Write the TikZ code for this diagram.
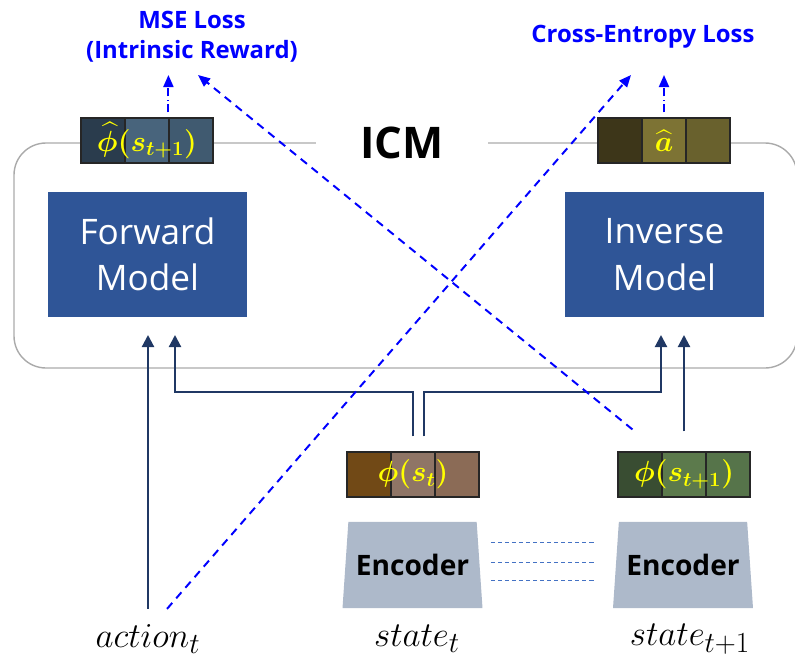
\documentclass[tikz,border=0pt]{standalone}
\usepackage{amsmath, amssymb}
\usepackage{fontspec}
\usepackage{tikz}
\usetikzlibrary{arrows.meta, positioning, calc, shapes.geometric}
\setmainfont{Open Sans}
\definecolor{mynavy}{RGB}{32, 56, 100}
\definecolor{modelblue}{RGB}{47, 85, 151}
\definecolor{encgray}{RGB}{173, 185, 202}
\definecolor{boxgray}{RGB}{170, 170, 170}
\definecolor{myblue}{RGB}{0, 0, 255}
\definecolor{sharedblue}{RGB}{68, 114, 196}
\definecolor{vecyellow}{RGB}{255, 255, 0}
\definecolor{phA}{RGB}{42, 60, 77}
\definecolor{phB}{RGB}{72, 100, 124}
\definecolor{phC}{RGB}{64, 90, 112}
\definecolor{ahA}{RGB}{61, 54, 25}
\definecolor{ahB}{RGB}{125, 115, 52}
\definecolor{ahC}{RGB}{105, 97, 45}
\definecolor{stA}{RGB}{113, 73, 22}
\definecolor{stB}{RGB}{143, 117, 102}
\definecolor{stC}{RGB}{139, 107, 86}
\definecolor{snA}{RGB}{57, 77, 50}
\definecolor{snB}{RGB}{92, 122, 76}
\definecolor{snC}{RGB}{86, 116, 74}

\begin{document}
\begin{tikzpicture}[x=0.025cm, y=-0.025cm,
    model/.style={rectangle, fill=modelblue, text=white, minimum width=4.975cm, minimum height=3.125cm, align=center, font=\fontsize{25}{33}\selectfont},
    cell/.style={rectangle, draw=black!85, line width=0.8pt, minimum width=1.1cm, minimum height=1.125cm, inner sep=0pt},
    vec/.style={text=vecyellow, inner sep=0pt, font=\fontsize{20}{22}\selectfont\boldmath},
    encoder/.style={trapezium, trapezium angle=76.6, trapezium stretches=true, fill=encgray, minimum width=3.525cm, minimum height=2.15cm, inner sep=0pt, font=\fontsize{20}{22}\selectfont\bfseries},
    feed/.style={-{Triangle[width=0.3cm, length=0.3cm]}, mynavy, line width=1.5pt},
    lossarr/.style={-{Triangle[width=0.25cm, length=0.3cm]}, myblue, line width=1.4pt, dash pattern=on 0.2cm off 0.15cm},
    shortarr/.style={-{Triangle[width=0.25cm, length=0.3cm]}, myblue, line width=1.4pt, dash pattern=on 0.2cm off 0.08cm on 0.04cm off 0.08cm},
    shared/.style={sharedblue, line width=0.6pt, dash pattern=on 3pt off 2pt},
    losstext/.style={myblue, align=center, font=\fontsize{17}{21}\selectfont\bfseries},
    inlabel/.style={font=\fontsize{31}{34}\selectfont, inner sep=1pt}]
    \useasboundingbox (0,0) rectangle (795,664);

    % ICM
    \draw[boxgray, line width=1pt, rounded corners=0.8cm] (14,143) rectangle (797,368);
    \node[fill=white, minimum width=4.3cm, font=\fontsize{31}{34}\selectfont\bfseries] (icm) at (402,143) {ICM};

    % models
    \node[model] (fwd) at (147.5,254.5) {Forward\\Model};
    \node[model] (inv) at (664.5,254.5) {Inverse\\Model};

    % predicted phi(s_{t+1})
    \node[cell, fill=phA] (ph1) at (103,140.5) {};
    \node[cell, fill=phB] (ph2) at (147,140.5) {};
    \node[cell, fill=phC] (ph3) at (191,140.5) {};
    \node[vec] (phtext) at (ph2) {$\widehat{\phi}(s_{t+1})$};

    % predicted action
    \node[cell, fill=ahA] (ah1) at (620,140.5) {};
    \node[cell, fill=ahB] (ah2) at (664,140.5) {};
    \node[cell, fill=ahC] (ah3) at (708,140.5) {};
    \node[vec] (ahtext) at (ah2) {$\widehat{a}$};

    % features
    \node[cell, fill=stA] (psA1) at (369,474.5) {};
    \node[cell, fill=stB] (psA2) at (413,474.5) {};
    \node[cell, fill=stC] (psA3) at (457,474.5) {};
    \node[vec] (psAtext) at (psA2) {$\phi(s_t)$};
    \node[cell, fill=snA] (psB1) at (640,474.5) {};
    \node[cell, fill=snB] (psB2) at (684,474.5) {};
    \node[cell, fill=snC] (psB3) at (728,474.5) {};
    \node[vec] (psBtext) at (psB2) {$\phi(s_{t+1})$};

    % encoders
    \node[encoder] (encA) at (412.5,565) {\raisebox{-0.12cm}{Encoder}};
    \node[encoder] (encB) at (683,565) {\raisebox{-0.12cm}{Encoder}};
    \foreach \dy in {0.575,0.075,-0.375}
        \draw[shared] ([xshift=0.275cm, yshift=\dy cm]encA.east) -- ([xshift=-0.49cm, yshift=\dy cm]encB.west);

    % inputs
    \node[inlabel] (act) at (148,639) {$action_t$};
    \node[inlabel] (st) at (417,639) {$state_t$};
    \node[inlabel] (st1) at (690,639) {$state_{t+1}$};

    % feeding arrows
    \coordinate (fwdinA) at (148,335);
    \coordinate (fwdinB) at (175,335);
    \coordinate (invinA) at (661,335);
    \coordinate (invinB) at (684,335);
    \coordinate (bus) at (0,392);
    \coordinate (splitL) at ([yshift=0.375cm]psA2.north);
    \coordinate (splitR) at ([xshift=0.275cm, yshift=0.375cm]psA2.north);
    \draw[feed] ([yshift=0.35cm]act.north) -- (fwdinA);
    \draw[feed] (splitL) -- (splitL |- bus) -| (fwdinB);
    \draw[feed] (splitR) -- (splitR |- bus) -| (invinA);
    \draw[feed] ([yshift=0.5cm]psB2.north) -- (invinB);

    % losses
    \node[losstext] (mse) at (192,37) {MSE Loss\\(Intrinsic Reward)};
    \node[losstext] (ce) at (643,37) {Cross-Entropy Loss};
    \coordinate (tipline) at (0,75);
    \coordinate (mseTip) at (198,75);
    \coordinate (ceTip) at (631,75);
    \draw[shortarr] ([yshift=0.125cm]ph3.north west) -- (ph3.north west |- tipline);
    \draw[shortarr] ([yshift=0.125cm]ah2.north) -- (ah2.north |- tipline);
    \draw[lossarr] ([xshift=0.375cm, yshift=0.55cm]psB1.north west) -- (mseTip);
    \draw[lossarr] ([xshift=0.475cm, yshift=0.35cm]act.north) -- (ceTip);
\end{tikzpicture}
\end{document}
